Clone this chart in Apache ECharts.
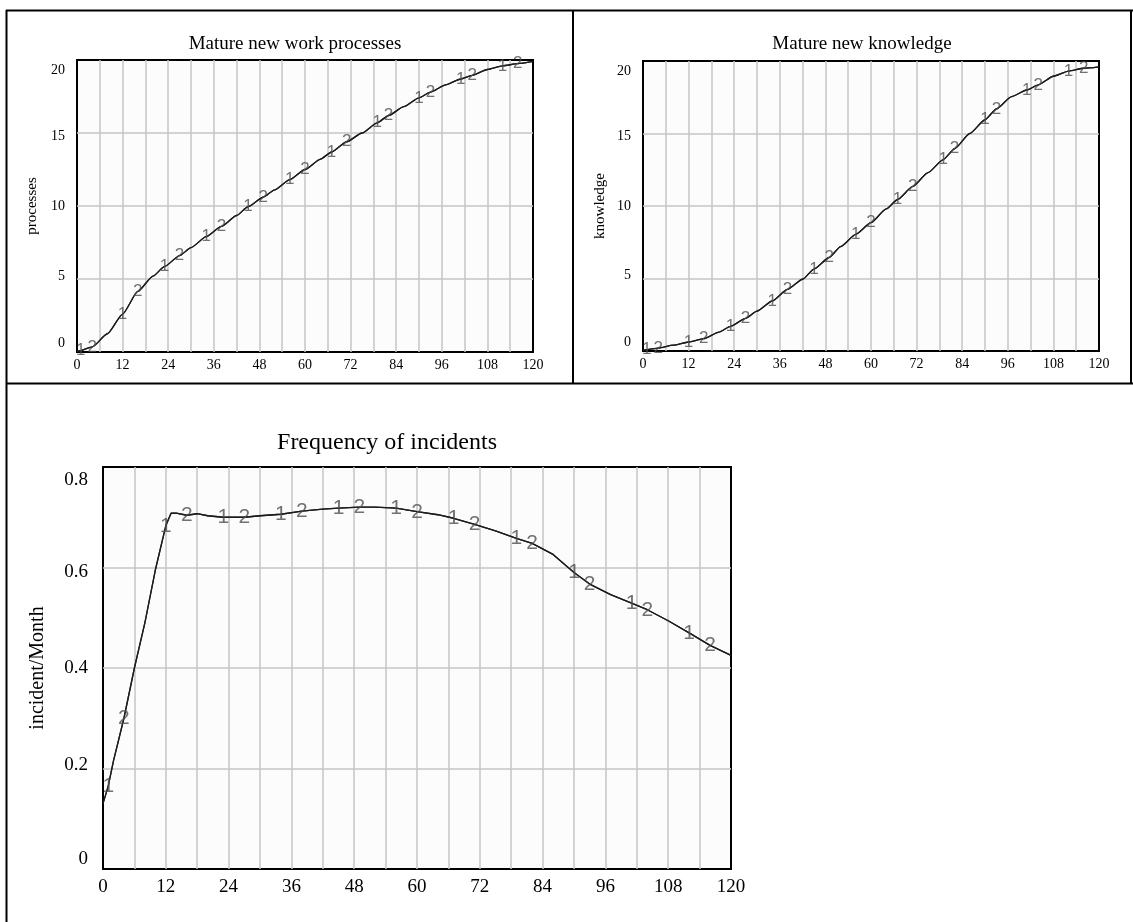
<!DOCTYPE html>
<html>
<head>
<meta charset="utf-8">
<title>Simulation runs</title>
<script src="https://cdn.jsdelivr.net/npm/echarts@6/dist/echarts.min.js"></script>
<style>
  html, body { margin: 0; padding: 0; background: #fff; }
  #chart { width: 1133px; height: 922px; }
</style>
</head>
<body>
<div id="chart"></div>
<script>
// Simulation time (months) at which each stock was sampled
const timeTop = [0, 1, 4, 8, 12, 16, 20, 23, 27, 30, 34, 38, 42, 45, 49, 52, 56, 60, 64, 67,
  71, 75, 79, 82, 86, 90, 93, 97, 101, 104, 108, 112, 116, 120];

// Mature new work processes (runs 1 and 2 coincide)
const processes = [0.05, 0.1, 0.35, 1.25, 2.6, 4.15, 5.2, 5.85, 6.6, 7.15, 7.9, 8.6, 9.35, 9.95,
  10.6, 11.1, 11.8, 12.5, 13.2, 13.7, 14.4, 15.0, 15.7, 16.2, 16.8, 17.4, 17.8, 18.3, 18.7,
  18.95, 19.35, 19.6, 19.75, 19.9];

// Mature new knowledge (runs 1 and 2 coincide)
const knowledge = [0.05, 0.1, 0.2, 0.4, 0.62, 0.85, 1.3, 1.7, 2.25, 2.75, 3.45, 4.25, 4.95, 5.65,
  6.45, 7.2, 8.05, 8.85, 9.8, 10.45, 11.35, 12.3, 13.2, 13.95, 15.0, 15.95, 16.7, 17.55, 18.0,
  18.35, 18.95, 19.3, 19.5, 19.6];

// Frequency of incidents is sampled more densely through the start-up ramp
const timeIncidents = [0, 1, 2, 4, 6, 8, 10, 12, 13, 14, 16, 18, 20, 23, 27, 30, 34, 38, 42, 45,
  49, 52, 56, 60, 64, 67, 71, 75, 79, 82, 86, 90, 93, 97, 101, 104, 108, 112, 116, 120];
const incidents = [0.13, 0.165, 0.215, 0.30, 0.40, 0.49, 0.595, 0.683, 0.708, 0.708, 0.704,
  0.707, 0.703, 0.70, 0.70, 0.703, 0.706, 0.712, 0.716, 0.718, 0.72, 0.72, 0.718, 0.711,
  0.705, 0.698, 0.686, 0.673, 0.658, 0.648, 0.626, 0.59, 0.567, 0.546, 0.529, 0.516, 0.494,
  0.47, 0.445, 0.425];

// Times where the run numbers are printed along the curves
const run1Marks = [1, 12, 23, 34, 45, 56, 67, 79, 90, 101, 112];
const run2Marks = [4, 16, 27, 38, 49, 60, 71, 82, 93, 104, 116];

// Axis ticks
const xTicks = [0, 12, 24, 36, 48, 60, 72, 84, 96, 108, 120];
const yTicksStock = [0, 5, 10, 15, 20];
const yTicksRate = [0, 0.2, 0.4, 0.6, 0.8];

const SERIF = '"Liberation Serif", "Times New Roman", serif';
const SANS = '"Liberation Sans", Arial, sans-serif';

function pairs(times, values) {
  return times.map((t, i) => [t, values[i]]);
}
function marksOn(times, values, marks) {
  return marks.map(m => [m, values[times.indexOf(m)]]);
}

// Value labels on the vertical axes are pulled in towards the middle of the plot,
// the lowest one sitting above its grid line and the highest one below it.
function yLabelRich(shifts, fontSize) {
  const rich = {};
  shifts.forEach((d, i) => {
    rich['s' + i] = {
      fontFamily: SERIF, fontSize: fontSize, color: '#000',
      padding: d >= 0 ? [2 * d, 0, 0, 0] : [0, 0, -2 * d, 0]
    };
  });
  return rich;
}

const panels = [
  { grid: { left: 77, top: 60, width: 456, height: 292 }, times: timeTop, values: processes,
    yTicks: yTicksStock, yShift: [-9, -3, 0, 3, 10], name: 'processes', nameGap: 37,
    tick: 14, nameSize: 15, digit: 17, smooth: 0.2 },
  { grid: { left: 643, top: 61, width: 456, height: 290 }, times: timeTop, values: knowledge,
    yTicks: yTicksStock, yShift: [-9, -3, 0, 3, 10], name: 'knowledge', nameGap: 35,
    tick: 14, nameSize: 15, digit: 17, smooth: 0.2 },
  { grid: { left: 103, top: 467, width: 628, height: 402 }, times: timeIncidents, values: incidents,
    yTicks: yTicksRate, yShift: [-10, -3.5, 0, 5, 13], name: 'incident/Month', nameGap: 55,
    tick: 19, nameSize: 20, digit: 21, smooth: false }
];

const grids = [], xAxes = [], yAxes = [], series = [];
panels.forEach((p, k) => {
  grids.push(Object.assign({
    show: true, backgroundColor: '#fcfcfc', borderColor: '#000', borderWidth: 2, containLabel: false
  }, p.grid));
  xAxes.push({
    gridIndex: k, type: 'value', min: 0, max: 120, interval: 6,
    axisLine: { show: false }, axisTick: { show: false },
    splitLine: { show: true, showMinLine: false, showMaxLine: false, lineStyle: { color: '#c6c6c6', width: 1.5 } },
    axisLabel: {
      margin: k === 2 ? 9 : 6, color: '#000', fontFamily: SERIF, fontSize: p.tick,
      showMinLabel: true, showMaxLabel: true,
      formatter: v => (xTicks.indexOf(v) >= 0 ? String(v) : '')
    }
  });
  const step = p.yTicks[1] - p.yTicks[0];
  yAxes.push({
    gridIndex: k, type: 'value', min: p.yTicks[0], max: p.yTicks[p.yTicks.length - 1], interval: step,
    axisLine: { show: false }, axisTick: { show: false },
    splitLine: { show: true, showMinLine: false, showMaxLine: false, lineStyle: { color: '#c6c6c6', width: 1.5 } },
    axisLabel: {
      margin: k === 2 ? 15 : 12, color: '#000', fontFamily: SERIF, fontSize: p.tick,
      rich: yLabelRich(p.yShift, p.tick),
      formatter: v => {
        const i = p.yTicks.findIndex(t => Math.abs(t - v) < 1e-9);
        return '{s' + i + '|' + v + '}';
      }
    },
    name: p.name, nameLocation: 'middle', nameGap: p.nameGap,
    nameTextStyle: { color: '#000', fontFamily: SERIF, fontSize: p.nameSize }
  });
  ['1', '2'].forEach((run, r) => {
    series.push({
      name: 'Run ' + run, type: 'line', xAxisIndex: k, yAxisIndex: k,
      data: pairs(p.times, p.values), showSymbol: false, smooth: p.smooth, smoothMonotone: 'x',
      lineStyle: { color: '#1c1c1c', width: 1.3 }, silent: true, z: 3
    });
    series.push({
      name: 'Run ' + run + ' marks', type: 'scatter', xAxisIndex: k, yAxisIndex: k,
      data: marksOn(p.times, p.values, r === 0 ? run1Marks : run2Marks),
      symbolSize: 1, itemStyle: { color: 'rgba(0,0,0,0)' }, silent: true, z: 4,
      label: { show: true, position: 'inside', formatter: run, color: '#4d4d4d',
        fontFamily: SANS, fontSize: p.digit }
    });
  });
});

const frame = { stroke: '#000', lineWidth: 2 };
const option = {
  animation: false,
  title: [
    { text: 'Mature new work processes', left: 290, top: 30, textAlign: 'center',
      textStyle: { fontFamily: SERIF, fontWeight: 'normal', fontSize: 19, color: '#000' } },
    { text: 'Mature new knowledge', left: 857, top: 30, textAlign: 'center',
      textStyle: { fontFamily: SERIF, fontWeight: 'normal', fontSize: 19, color: '#000' } },
    { text: 'Frequency of incidents', left: 382, top: 426, textAlign: 'center',
      textStyle: { fontFamily: SERIF, fontWeight: 'normal', fontSize: 24, color: '#000' } }
  ],
  grid: grids, xAxis: xAxes, yAxis: yAxes, series: series,
  graphic: [
    { type: 'line', shape: { x1: 6, y1: 10.5, x2: 1133, y2: 10.5 }, style: frame },
    { type: 'line', shape: { x1: 6.5, y1: 10, x2: 6.5, y2: 922 }, style: frame },
    { type: 'line', shape: { x1: 573, y1: 10, x2: 573, y2: 384 }, style: frame },
    { type: 'line', shape: { x1: 1131, y1: 10, x2: 1131, y2: 384 }, style: frame },
    { type: 'line', shape: { x1: 6, y1: 383.5, x2: 1133, y2: 383.5 }, style: frame }
  ]
};

const chart = echarts.init(document.getElementById('chart'), null, { renderer: 'canvas' });
chart.setOption(option);
</script>
</body>
</html>
